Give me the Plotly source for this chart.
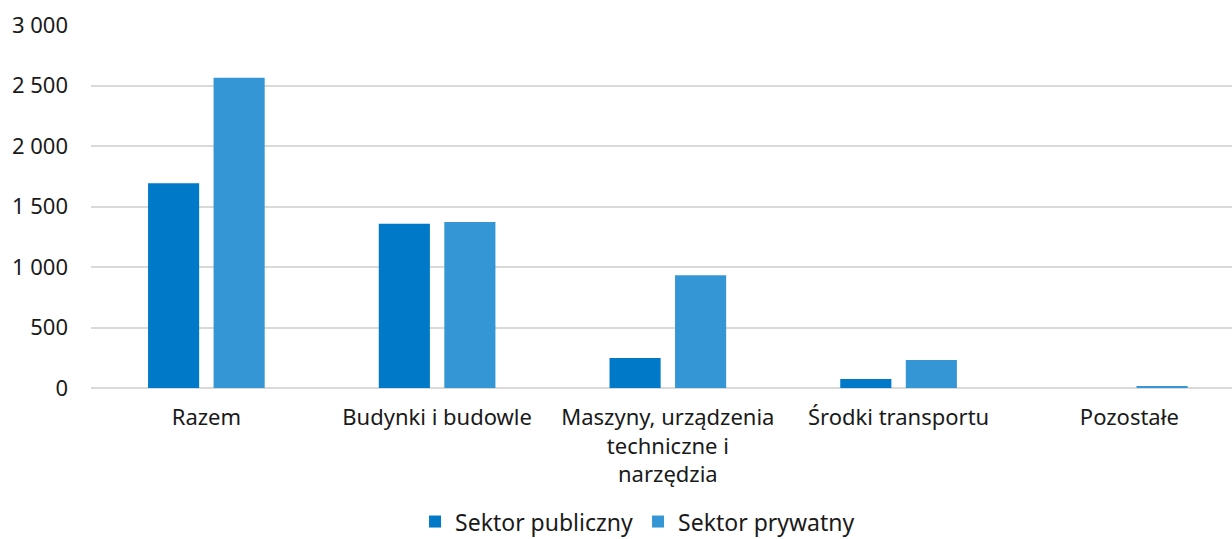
import plotly.graph_objects as go

categories = ["Razem", "Budynki i budowle", "Maszyny, urządzenia<br>techniczne i<br>narzędzia",
              "Środki transportu", "Pozostałe"]
publiczny = [1692, 1358, 248, 74, 0]
prywatny = [2564, 1372, 931, 231, 14]
y_ticks = [0, 500, 1000, 1500, 2000, 2500, 3000]

FONT = "Noto Sans"
TXT = "#1a1a1a"

fig = go.Figure()
fig.add_trace(go.Bar(x=categories, y=publiczny, name="Sektor publiczny",
                     marker=dict(color="#0179C9", line=dict(width=0))))
fig.add_trace(go.Bar(x=categories, y=prywatny, name="Sektor prywatny",
                     marker=dict(color="#3596D6", line=dict(width=0))))

fig.update_layout(
    width=1232, height=539,
    margin=dict(l=91, r=0, t=25, b=151, autoexpand=False),
    paper_bgcolor="white", plot_bgcolor="white",
    barmode="group", bargap=0.432, bargroupgap=0.22,
    separators=", ",
    font=dict(family=FONT, size=22, color=TXT),
    showlegend=True,
    legend=dict(orientation="h", x=0.479, xanchor="center", y=-0.368, yanchor="middle",
                font=dict(size=23, color=TXT), itemwidth=30, tracegroupgap=0),
    xaxis=dict(type="category", range=[-0.5, 4.445], showgrid=False, zeroline=False,
               showline=False, ticks="", ticklabelstandoff=14, automargin=False,
               tickfont=dict(size=22, color=TXT)),
    yaxis=dict(range=[0, 3000], tickvals=y_ticks, tickformat=",d", automargin=False,
               showgrid=True, gridcolor="#D9D9D9", gridwidth=1.5,
               zeroline=True, zerolinecolor="#D9D9D9", zerolinewidth=1.5,
               showline=False, ticks="", ticklabelstandoff=22,
               tickfont=dict(size=22, color=TXT)),
)

fig.write_html("out.html", config={"displayModeBar": False},
               post_script="document.body.style.margin='0px';")
